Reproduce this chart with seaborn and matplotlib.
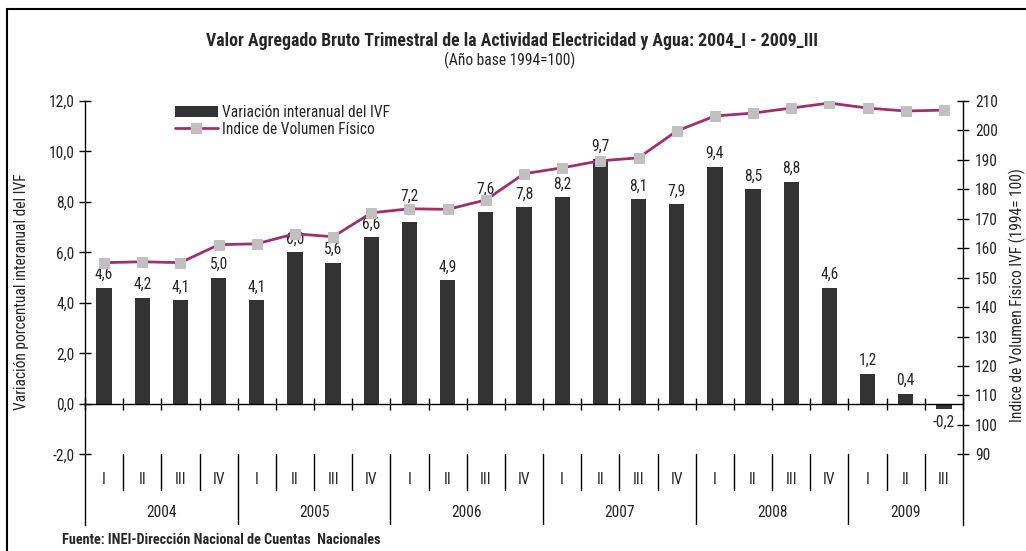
"""
Valor Agregado Bruto Trimestral - Electricidad y Agua (2004_I - 2009_III)
Barras: variación interanual del IVF; línea: índice de volumen físico.
"""

import numpy as np
import pandas as pd
import matplotlib
matplotlib.use("Agg")
import matplotlib.pyplot as plt
import seaborn as sns
from matplotlib import font_manager as fm
from matplotlib.patches import Patch, Rectangle
from matplotlib.lines import Line2D

# ─────────────────────────────────────────────
# DATOS
# ─────────────────────────────────────────────

anios = ["2004", "2005", "2006", "2007", "2008", "2009"]
trimestres = ["I", "II", "III", "IV"] * 5 + ["I", "II", "III"]

variacion_ivf = [4.6, 4.2, 4.1, 5.0, 4.1, 6.0, 5.6, 6.6, 7.2, 4.9, 7.6, 7.8,
                 8.2, 9.7, 8.1, 7.9, 9.4, 8.5, 8.8, 4.6, 1.2, 0.4, -0.2]

indice_vf = [155.1, 155.4, 155.1, 161.2, 161.5, 164.9, 163.9, 172.0, 173.4,
             173.2, 176.4, 185.3, 187.3, 189.7, 190.7, 199.8, 204.9, 205.9,
             207.6, 209.3, 207.6, 206.6, 206.9]

titulo = "Valor Agregado Bruto Trimestral de la Actividad Electricidad y Agua: 2004_I - 2009_III"
subtitulo = "(Año base 1994=100)"
fuente = "Fuente: INEI-Dirección Nacional de Cuentas  Nacionales"

# ─────────────────────────────────────────────
# ESTILO
# ─────────────────────────────────────────────

sns.set_theme(style="white")

# fuente condensada si existe alguna instalada
disponibles = {f.name for f in fm.fontManager.ttflist}
preferidas = ["Liberation Sans Narrow", "Arial Narrow", "Roboto Condensed",
              "Archivo Narrow", "PT Sans Narrow", "Open Sans Condensed",
              "Fira Sans Condensed", "IBM Plex Sans Condensed",
              "Encode Sans Condensed", "Asap Condensed"]
familia = [f for f in preferidas if f in disponibles][:1] + ["DejaVu Sans"]
plt.rcParams["font.family"] = familia
plt.rcParams["font.size"] = 11

COLOR_BARRA = "#333333"
COLOR_LINEA = "#A0306A"
COLOR_MARCA = "#C0C0C0"
FS = 11.2

n = len(variacion_ivf)
anio_de = []
for a in anios:
    anio_de += [a] * 4
anio_de = anio_de[:n]
periodos = [f"{a}_{t}" for a, t in zip(anio_de, trimestres)]

df = pd.DataFrame({
    "periodo": periodos,
    "pos": np.arange(n),
    "variacion": variacion_ivf,
    "indice": indice_vf,
})

fig = plt.figure(figsize=(10.26, 5.51), dpi=100)
ax = fig.add_axes([85 / 1026, 1 - 525 / 551, 878 / 1026, 424 / 551])

sns.barplot(data=df, x="periodo", y="variacion", order=periodos,
            color=COLOR_BARRA, saturation=1, width=0.4, linewidth=0, ax=ax)

ax2 = ax.twinx()
sns.lineplot(data=df, x="pos", y="indice", color=COLOR_LINEA, linewidth=2,
             marker="s", markersize=7.5, markerfacecolor=COLOR_MARCA,
             markeredgecolor=COLOR_MARCA, ax=ax2, legend=False)

# ─────────────────────────────────────────────
# EJES
# ─────────────────────────────────────────────

ax.set_xlim(-0.5, n - 0.5)
ax.set_ylim(-4.8, 12)
ax2.set_ylim(90 - 2.8 * 120 / 14, 210)

ax.set_yticks(np.arange(-2, 12.1, 2))
ax.set_yticklabels([f"{v:.1f}".replace(".", ",") for v in np.arange(-2, 12.1, 2)])
ax2.set_yticks(np.arange(90, 211, 10))
ax2.set_yticklabels([str(v) for v in range(90, 211, 10)])

ax.set_xticks(np.arange(-0.5, n, 1.0))
ax.set_xticklabels([])
ax.set_xlabel("")
ax.set_ylabel("")
ax2.set_xlabel("")
ax2.set_ylabel("")

for a in (ax, ax2):
    a.spines["top"].set_visible(False)
    for s in a.spines.values():
        s.set_color("black")
        s.set_linewidth(1)
ax.spines["right"].set_visible(False)
ax.spines["bottom"].set_position(("data", 0))
ax2.spines["bottom"].set_visible(False)
ax2.spines["left"].set_visible(False)

ax.tick_params(axis="y", direction="inout", length=9, width=1, color="black",
               labelsize=FS, left=True, pad=3)
ax.tick_params(axis="x", direction="inout", length=8, width=1, color="black",
               bottom=True)
ax2.tick_params(axis="y", direction="inout", length=9, width=1, color="black",
                labelsize=FS, right=True, pad=4)
ax.grid(False)
ax2.grid(False)

# etiquetas de valores sobre las barras
ajuste = {8: 13, 10: 11}
for i, v in enumerate(variacion_ivf):
    txt = f"{v:.1f}".replace(".", ",")
    if v >= 0:
        ax.annotate(txt, (i, v), xytext=(0, ajuste.get(i, 4)),
                    textcoords="offset points", ha="center", va="bottom",
                    fontsize=FS)
    else:
        ax.annotate(txt, (i, v), xytext=(0, -4), textcoords="offset points",
                    ha="center", va="top", fontsize=FS)

# trimestres y años bajo el eje
limites_anio = [3.5, 7.5, 11.5, 15.5, 19.5]
for i, t in enumerate(trimestres):
    ax.text(i, -3.0, t, ha="center", va="center", fontsize=FS)
for b in np.arange(0.5, n - 1, 1.0):
    if b in limites_anio:
        ax.plot([b, b], [-2.0, -4.8], color="black", lw=1)
    else:
        ax.plot([b, b], [-2.0, -3.4], color="black", lw=1)
inicio = -0.5
for a in anios:
    cuenta = anio_de.count(a)
    ax.text(inicio + cuenta / 2, -4.3, a, ha="center", va="center", fontsize=FS)
    inicio += cuenta

# leyenda
handles = [
    Patch(facecolor=COLOR_BARRA, edgecolor="none"),
    Line2D([], [], color=COLOR_LINEA, lw=2, marker="s", markersize=7.5,
           markerfacecolor=COLOR_MARCA, markeredgecolor=COLOR_MARCA),
]
ax2.legend(handles, ["Variación interanual del IVF", "Indice de Volumen Físico"],
           loc="upper left", bbox_to_anchor=(0.102, 0.99), frameon=False,
           borderaxespad=0, borderpad=0, handlelength=2.8, handleheight=0.7,
           handletextpad=0.25, labelspacing=0.1, fontsize=FS)

# textos de la figura
fig.text(512 / 1026, 1 - 41 / 551, titulo, ha="center", va="center",
         fontsize=12.8, fontweight="bold")
fig.text(510 / 1026, 1 - 60 / 551, subtitulo, ha="center", va="center",
         fontsize=FS)
fig.text(22 / 1026, 1 - 292 / 551, "Variación porcentual interanual del IVF",
         rotation=90, ha="center", va="center", fontsize=FS)
fig.text(1017 / 1026, 1 - 295 / 551, "Indice de Volumen Físico IVF (1994= 100)",
         rotation=90, ha="center", va="center", fontsize=FS)
fig.text(62 / 1026, 1 - 540 / 551, fuente, ha="left", va="center",
         fontsize=10.3, fontweight="bold")

# marco exterior
fig.patches.append(Rectangle((7 / 1026, -0.1), 1.2, 1 - 9 / 551 + 0.1,
                             transform=fig.transFigure, fill=False,
                             edgecolor="black", linewidth=1.5))

fig.savefig("out.png", dpi=100)
plt.close(fig)
